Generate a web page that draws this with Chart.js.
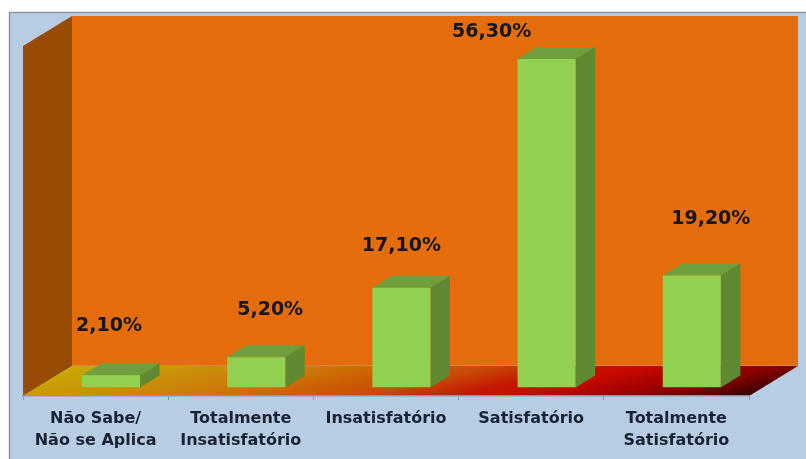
<!DOCTYPE html>
<html>
<head>
<meta charset="utf-8">
<title>Satisfação</title>
<script src="https://cdn.jsdelivr.net/npm/chart.js@4/dist/chart.umd.min.js"></script>
<style>
  html, body { margin: 0; padding: 0; background: #fff; }
  canvas { display: block; filter: blur(0.45px); }
</style>
</head>
<body>
<canvas id="chart" width="806" height="459"></canvas>
<script>
const categories = [['Não Sabe/', 'Não se Aplica'], ['Totalmente', 'Insatisfatório'], 'Insatisfatório', 'Satisfatório', ['Totalmente', 'Satisfatório']];
const percentages = [2.1, 5.2, 17.1, 56.3, 19.2];
const valueLabels = ['2,10%', '5,20%', '17,10%', '56,30%', '19,20%'];

// hand-placed labels in the original, offset from the top of each bar
const labelShiftX = [-2, 14, 0, -55, 19];
const labelShiftY = [-49, -47, -42, -27, -56];

const wallDepth = { x: 49, y: -30 };
const barShift = { x: 15.4, y: -8.5 };
const barDepth = { x: 19.5, y: -12 };

function poly(ctx, points, fill) {
    ctx.beginPath();
    points.forEach((p, i) => i ? ctx.lineTo(p[0], p[1]) : ctx.moveTo(p[0], p[1]));
    ctx.closePath();
    ctx.fillStyle = fill;
    ctx.fill();
}

const room3d = {
    id: 'room3d',
    beforeDraw(chart) {
        const { ctx, chartArea: a } = chart;
        const d = wallDepth;
        ctx.save();
        // panel
        ctx.fillStyle = '#b8cce4';
        ctx.fillRect(9, 12, 797, 447);
        ctx.strokeStyle = '#8b93a7';
        ctx.lineWidth = 1.5;
        ctx.beginPath();
        ctx.moveTo(9.5, 459);
        ctx.lineTo(9.5, 12.5);
        ctx.lineTo(806, 12.5);
        ctx.stroke();
        // back wall
        poly(ctx, [[a.left + d.x, a.top + d.y], [a.right + d.x, a.top + d.y], [a.right + d.x, a.bottom + d.y], [a.left + d.x, a.bottom + d.y]], '#e46c0a');
        // left wall
        poly(ctx, [[a.left, a.top], [a.left + d.x, a.top + d.y], [a.left + d.x, a.bottom + d.y], [a.left, a.bottom]], '#974b05');
        // floor, the gradient runs steeply so red comes in earlier along the front edge
        const g = ctx.createLinearGradient(72, 366, 113, 544);
        g.addColorStop(0, '#c8a800');
        g.addColorStop(0.12, '#c89808');
        g.addColorStop(0.3, '#cc7a08');
        g.addColorStop(0.44, '#cc5a04');
        g.addColorStop(0.52, '#c84a08');
        g.addColorStop(0.63, '#c41800');
        g.addColorStop(0.7, '#c80a00');
        g.addColorStop(0.82, '#a00000');
        g.addColorStop(0.9, '#780000');
        g.addColorStop(1, '#2a0000');
        poly(ctx, [[a.left, a.bottom], [a.left + d.x, a.bottom + d.y], [a.right + d.x, a.bottom + d.y], [a.right, a.bottom]], g);
        // pale seam where the wall meets the floor
        ctx.strokeStyle = 'rgba(214, 140, 80, 0.8)';
        ctx.lineWidth = 1;
        ctx.beginPath();
        ctx.moveTo(a.left + d.x, a.bottom + d.y - 0.5);
        ctx.lineTo(a.right + d.x, a.bottom + d.y - 0.5);
        ctx.stroke();
        ctx.restore();
    },
    beforeDatasetsDraw(chart) {
        const { ctx } = chart;
        ctx.save();
        ctx.translate(barShift.x, barShift.y);
        const d = barDepth;
        chart.getDatasetMeta(0).data.forEach(bar => {
            const l = bar.x - bar.width / 2;
            const r = bar.x + bar.width / 2;
            poly(ctx, [[l, bar.y], [l + d.x, bar.y + d.y], [r + d.x, bar.y + d.y], [r, bar.y]], '#6f9e3c');
            poly(ctx, [[r, bar.y], [r + d.x, bar.y + d.y], [r + d.x, bar.base + d.y], [r, bar.base]], '#5f8a32');
        });
    },
    afterDatasetsDraw(chart) {
        const { ctx } = chart;
        ctx.restore();
        ctx.save();
        ctx.fillStyle = '#14171f';
        ctx.font = 'bold 19px "DejaVu Sans"';
        ctx.textAlign = 'center';
        ctx.textBaseline = 'middle';
        chart.getDatasetMeta(0).data.forEach((bar, i) => {
            ctx.fillText(valueLabels[i], bar.x + barShift.x + labelShiftX[i], bar.y + barShift.y + labelShiftY[i]);
        });
        ctx.restore();
    }
};

new Chart(document.getElementById('chart').getContext('2d'), {
    type: 'bar',
    data: {
        labels: categories,
        datasets: [{
            data: percentages,
            backgroundColor: '#92d050',
            barPercentage: 0.4,
            categoryPercentage: 1
        }]
    },
    options: {
        responsive: false,
        animation: false,
        layout: { padding: { left: 23, right: 57, top: 46, bottom: 0 } },
        plugins: { legend: { display: false }, tooltip: { enabled: false } },
        scales: {
            x: {
                afterFit: scale => { scale.height = 63; },
                grid: { drawOnChartArea: false, color: '#8f96a3', tickLength: 4 },
                border: { color: '#8f96a3', width: 1.5 },
                ticks: {
                    color: '#1a2333',
                    font: { family: '"DejaVu Sans"', weight: 'bold', size: 16, lineHeight: 1.42 },
                    maxRotation: 0,
                    autoSkip: false,
                    padding: 7
                }
            },
            y: { display: false, min: 0, max: 60 }
        }
    },
    plugins: [room3d]
});
</script>
</body>
</html>
